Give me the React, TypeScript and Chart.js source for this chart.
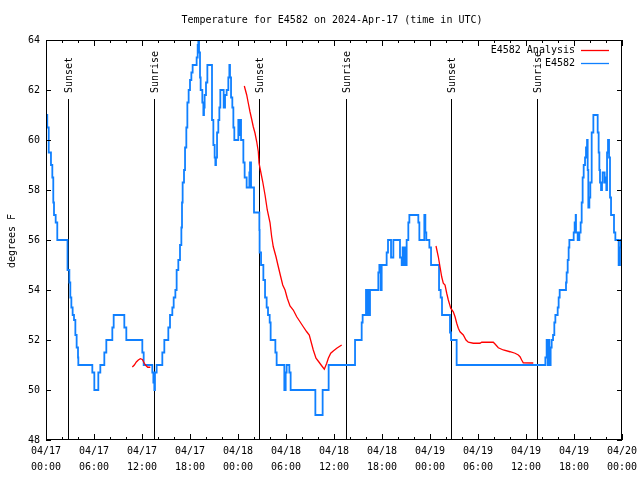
import React, { useEffect, useRef } from "react";
import { Chart, registerables } from "chart.js";

Chart.register(...registerables);

const TITLE = "Temperature for E4582 on 2024-Apr-17 (time in UTC)";
const Y_TITLE = "degrees F";
const SERIES_ANALYSIS = "E4582 Analysis";
const SERIES_OBS = "E4582";
const RED = "#ff0000";
const BLUE = "#1080ff";
const FONT = "'DejaVu Sans Mono', 'Liberation Mono', monospace";

const X_TICK_HOURS = [0, 6, 12, 18, 24, 30, 36, 42, 48, 54, 60, 66, 72];
const X_TICK_DATES = ["04/17", "04/17", "04/17", "04/17", "04/18", "04/18", "04/18", "04/18", "04/19", "04/19", "04/19", "04/19", "04/20"];
const X_TICK_TIMES = ["00:00", "06:00", "12:00", "18:00", "00:00", "06:00", "12:00", "18:00", "00:00", "06:00", "12:00", "18:00", "00:00"];
const Y_TICKS = [48, 50, 52, 54, 56, 58, 60, 62, 64];

const SUN_EVENT_HOURS = [2.69, 13.54, 26.66, 37.54, 50.67, 61.42];
const SUN_EVENT_LABELS = ["Sunset", "Sunrise", "Sunset", "Sunrise", "Sunset", "Sunrise"];

// Observations: hour (since 04/17 00:00 UTC) at which each reading level begins, and the level
const OBS_HOURS = [
  0.0, 0.16, 0.34, 0.62, 0.79, 0.91, 1.0, 1.21, 1.41, 2.69, 2.92, 3.04, 3.17, 3.33, 3.5, 3.67, 3.83, 4.0, 4.04,
  5.79, 6.04, 6.54, 6.79, 7.29, 7.54, 8.29, 8.46, 9.79, 10.04, 12.04, 12.21, 13.29, 13.42, 13.54, 13.62, 13.83,
  14.54, 14.79, 15.29, 15.5, 15.67, 15.79, 15.96, 16.17, 16.33, 16.54, 16.75, 16.92, 17.0, 17.08, 17.25, 17.38,
  17.54, 17.67, 17.83, 18.0, 18.17, 18.33, 18.83, 18.96, 19.04, 19.13, 19.25, 19.33, 19.54, 19.67, 19.75, 19.83,
  20.0, 20.17, 20.75, 20.92, 21.08, 21.17, 21.25, 21.38, 21.54, 21.67, 21.79, 22.21, 22.38, 22.58, 22.79, 22.92,
  23.0, 23.13, 23.29, 23.42, 23.54, 24.04, 24.17, 24.25, 24.38, 24.67, 24.83, 25.08, 25.42, 25.5, 25.63, 26.0,
  26.67, 26.7, 26.88, 27.17, 27.38, 27.58, 27.75, 27.96, 28.08, 28.67, 28.83, 29.79, 29.96, 30.08, 30.42, 30.58,
  33.67, 34.58, 35.33, 38.63, 39.46, 39.58, 40.0, 40.13, 40.25, 40.38, 40.5, 41.54, 41.67, 41.83, 41.96, 42.58,
  42.75, 43.13, 43.42, 44.25, 44.46, 44.58, 44.7, 44.83, 44.96, 45.08, 45.29, 45.42, 46.54, 46.67, 47.29, 47.42,
  47.54, 47.92, 48.13, 49.13, 49.33, 49.5, 50.5, 50.63, 51.33, 62.42, 62.58, 62.71, 62.83, 62.92, 63.08, 63.21,
  63.38, 63.54, 63.67, 63.96, 64.08, 64.21, 65.0, 65.08, 65.21, 65.33, 65.42, 65.96, 66.08, 66.21, 66.25, 66.46,
  66.67, 66.83, 66.96, 67.08, 67.21, 67.38, 67.5, 67.63, 67.71, 67.79, 67.92, 68.04, 68.21, 68.42, 68.96, 69.08,
  69.17, 69.25, 69.38, 69.5, 69.58, 69.83, 69.96, 70.04, 70.13, 70.25, 70.38, 70.5, 70.63, 71.0, 71.17, 71.58,
  71.75, 71.83, 72.0,
];
const OBS_TEMPS = [
  61, 60.5, 59.5, 59, 58.5, 57.5, 57, 56.7, 56, 54.8, 54.3, 53.7, 53.3, 53, 52.8, 52.2, 51.7, 51.3, 51,
  50.7, 50, 50.7, 51, 51.5, 52, 52.5, 53, 52.5, 52, 51.5, 51, 50.7, 50.3, 50, 50.7, 51,
  51.5, 52, 52.5, 53, 53, 53.3, 53.7, 54, 54.8, 55.2, 55.8, 56.5, 57.5, 58.3, 58.8, 59.7,
  60.5, 61.5, 62, 62.4, 62.7, 63, 63.3, 63.8, 64, 63.5, 62.5, 62, 61.5, 61, 61.3, 61.8,
  62.3, 63, 60.8, 59.8, 59.3, 59, 59.3, 60.3, 60.8, 61.3, 62, 61.3, 61.8, 62, 62.5, 63,
  62.5, 61.7, 61.3, 60.5, 60, 60.8, 60.2, 60.8, 60, 59.1, 58.5, 58.1, 58.7, 59.1, 58.1, 57.1,
  56.4, 55.5, 55, 54.4, 53.7, 53.3, 53, 52.7, 52, 51.5, 51, 50, 50.7, 51, 50.7, 50,
  49, 50, 51, 52, 52.7, 53, 54, 53, 54, 53, 54, 54.7, 55, 54, 55, 55.5,
  56, 55.3, 56, 55.3, 55, 55.7, 55, 55.7, 55, 56, 56.7, 57, 56.7, 56, 57, 56.3,
  56, 55.7, 55, 54, 53.7, 53, 52.3, 52, 51, 51.3, 52, 51, 52, 51, 51.7, 52,
  52.2, 52.7, 53, 53.3, 53.7, 54, 54.3, 54.7, 55.2, 55.7, 56, 56.3, 56.7, 57, 56.3, 56,
  56.3, 56.7, 57.5, 58.5, 59, 59.3, 59.7, 60, 58.8, 57.3, 57.7, 58.3, 60.3, 61, 60.3, 59.5,
  58.8, 58.3, 58, 58.3, 58.7, 58.3, 58.5, 58, 59.5, 60, 59.3, 57.7, 57, 56.3, 56, 55,
  55.7, 56, 56,
];

// Analysis curve (null separates the three runs)
const ANALYSIS_HOURS = [
  10.79, 11.04, 11.29, 11.54, 11.79, 12.04, 12.29, 12.46, 12.71, 13.04,
  18,
  24.79, 25.09, 25.29, 25.5, 25.71, 25.91, 26.13, 26.34, 26.54, 26.63, 26.84, 27.09, 27.38, 27.66, 28.0, 28.21,
  28.41, 28.75, 29.04, 29.34, 29.59, 29.88, 30.16, 30.5, 30.91, 31.34, 31.75, 32.16, 32.59, 32.91, 33.21, 33.41,
  33.75, 34.09, 34.46, 34.79, 35.09, 35.29, 35.59, 35.91, 36.34, 36.96,
  42,
  48.75, 49.04, 49.25, 49.46, 49.66, 49.88, 50.09, 50.29, 50.59, 50.91, 51.13, 51.34, 51.54, 51.75, 52.16, 52.5,
  52.79, 53.41, 54.25, 54.46, 55.91, 56.13, 56.54, 57.16, 58.0, 58.63, 59.04, 59.25, 59.46, 59.66, 60.91,
];
const ANALYSIS_TEMPS = [
  50.92, 51.0, 51.12, 51.2, 51.25, 51.22, 51.07, 50.99, 50.91, 50.91,
  null,
  62.16, 61.8, 61.47, 61.13, 60.83, 60.53, 60.27, 59.93, 59.53, 59.07, 58.73, 58.33, 57.8, 57.2, 56.7, 56.13,
  55.73, 55.33, 54.93, 54.53, 54.2, 54.0, 53.67, 53.36, 53.2, 52.93, 52.73, 52.53, 52.33, 52.2, 51.84, 51.6,
  51.27, 51.13, 50.97, 50.83, 51.07, 51.27, 51.47, 51.56, 51.67, 51.8,
  null,
  55.76, 55.33, 54.93, 54.53, 54.27, 54.2, 53.87, 53.6, 53.27, 53.13, 52.93, 52.67, 52.47, 52.33, 52.2, 52.0,
  51.91, 51.87, 51.87, 51.91, 51.91, 51.84, 51.69, 51.6, 51.53, 51.47, 51.4, 51.33, 51.2, 51.09, 51.08,
];

const decor = {
  id: "decor",
  beforeDatasetsDraw(chart: any) {
    const { ctx, chartArea: a, scales } = chart;
    const x = scales.x;
    ctx.save();
    ctx.strokeStyle = "#000";
    ctx.fillStyle = "#000";
    ctx.lineWidth = 1;
    ctx.font = `10px ${FONT}`;
    SUN_EVENT_HOURS.forEach((h, i) => {
      const px = Math.round(x.getPixelForValue(h)) + 0.5;
      ctx.beginPath();
      ctx.moveTo(px, 99);
      ctx.lineTo(px, a.bottom);
      ctx.stroke();
      ctx.save();
      ctx.translate(px + 0.5, 93);
      ctx.rotate(-Math.PI / 2);
      ctx.textAlign = "left";
      ctx.textBaseline = "middle";
      ctx.fillText(SUN_EVENT_LABELS[i], 0, 0);
      ctx.restore();
    });
    ctx.restore();
  },
  afterDraw(chart: any) {
    const { ctx, chartArea: a, scales } = chart;
    const x = scales.x;
    const y = scales.y;
    ctx.save();
    ctx.strokeStyle = "#000";
    ctx.lineWidth = 1;
    // frame
    ctx.strokeRect(a.left + 0.5, a.top + 0.5, a.right - a.left - 1, a.bottom - a.top - 1);
    // x ticks every 2 hours, inward, mirrored on top
    ctx.beginPath();
    for (let h = 0; h <= 72; h += 2) {
      const px = Math.round(x.getPixelForValue(h)) + 0.5;
      const len = h % 6 === 0 ? 6 : 3;
      ctx.moveTo(px, a.bottom);
      ctx.lineTo(px, a.bottom - len);
      ctx.moveTo(px, a.top);
      ctx.lineTo(px, a.top + len);
    }
    // y ticks, inward, mirrored on right
    Y_TICKS.forEach((v) => {
      const py = Math.round(y.getPixelForValue(v)) + 0.5;
      ctx.moveTo(a.left, py);
      ctx.lineTo(a.left + 5, py);
      ctx.moveTo(a.right, py);
      ctx.lineTo(a.right - 5, py);
    });
    ctx.stroke();

    ctx.fillStyle = "#000";
    ctx.font = `10px ${FONT}`;
    // title
    ctx.textAlign = "center";
    ctx.textBaseline = "middle";
    ctx.fillText(TITLE, 332, 20);
    // y title
    ctx.save();
    ctx.translate(12, 241);
    ctx.rotate(-Math.PI / 2);
    ctx.textAlign = "center";
    ctx.textBaseline = "middle";
    ctx.fillText(Y_TITLE, 0, 0);
    ctx.restore();
    // legend
    const rows = [
      { label: SERIES_ANALYSIS, color: RED, yy: 50 },
      { label: SERIES_OBS, color: BLUE, yy: 63 },
    ];
    rows.forEach((r) => {
      ctx.fillStyle = "#000";
      ctx.textAlign = "right";
      ctx.textBaseline = "middle";
      ctx.fillText(r.label, 575, r.yy);
      ctx.strokeStyle = r.color;
      ctx.lineWidth = 1.3;
      ctx.beginPath();
      ctx.moveTo(581, r.yy + 0.5);
      ctx.lineTo(609, r.yy + 0.5);
      ctx.stroke();
    });
    ctx.restore();
  },
};

export default function App() {
  const ref = useRef<HTMLCanvasElement>(null);
  useEffect(() => {
    if (!ref.current) return;
    const obsData = OBS_HOURS.map((h, i) => ({ x: h, y: OBS_TEMPS[i] }));
    const anaData = ANALYSIS_HOURS.map((h, i) => ({ x: h, y: ANALYSIS_TEMPS[i] }));
    const chart = new Chart(ref.current, {
      type: "line",
      data: {
        datasets: [
          {
            label: SERIES_ANALYSIS,
            data: anaData as any,
            borderColor: RED,
            borderWidth: 1.3,
            pointRadius: 0,
            spanGaps: false,
            tension: 0,
            fill: false,
          },
          {
            label: SERIES_OBS,
            data: obsData as any,
            borderColor: BLUE,
            borderWidth: 1.8,
            pointRadius: 0,
            stepped: "before",
            fill: false,
          },
        ],
      },
      options: {
        animation: false,
        responsive: false,
        devicePixelRatio: 1,
        layout: { padding: { top: 40, right: 18, left: 0, bottom: 0 } },
        plugins: {
          legend: { display: false },
          title: { display: false },
          tooltip: { enabled: false },
        },
        scales: {
          x: {
            type: "linear",
            min: 0,
            max: 72,
            afterFit: (s: any) => {
              s.height = 40;
              s.paddingLeft = 0;
              s.paddingRight = 0;
            },
            afterBuildTicks: (s: any) => {
              s.ticks = X_TICK_HOURS.map((v) => ({ value: v }));
            },
            ticks: {
              autoSkip: false,
              maxRotation: 0,
              minRotation: 0,
              padding: 4,
              color: "#000",
              font: { family: FONT, size: 10, lineHeight: 1.55 },
              callback: (_v: any, i: number) => [X_TICK_DATES[i], X_TICK_TIMES[i]],
            },
            grid: { display: false, drawTicks: false },
            border: { display: false },
          },
          y: {
            type: "linear",
            min: 48,
            max: 64,
            afterFit: (s: any) => {
              s.width = 46;
              s.paddingTop = 0;
              s.paddingBottom = 0;
            },
            afterBuildTicks: (s: any) => {
              s.ticks = Y_TICKS.map((v) => ({ value: v }));
            },
            ticks: {
              padding: 6,
              color: "#000",
              font: { family: FONT, size: 10 },
              callback: (v: any) => String(v),
            },
            grid: { display: false, drawTicks: false },
            border: { display: false },
          },
        },
      },
      plugins: [decor],
    });
    return () => chart.destroy();
  }, []);
  return (
    <div style={{ position: "fixed", left: 0, top: 0, width: 640, height: 480, background: "#fff" }}>
      <canvas ref={ref} width={640} height={480} style={{ display: "block" }} />
    </div>
  );
}
